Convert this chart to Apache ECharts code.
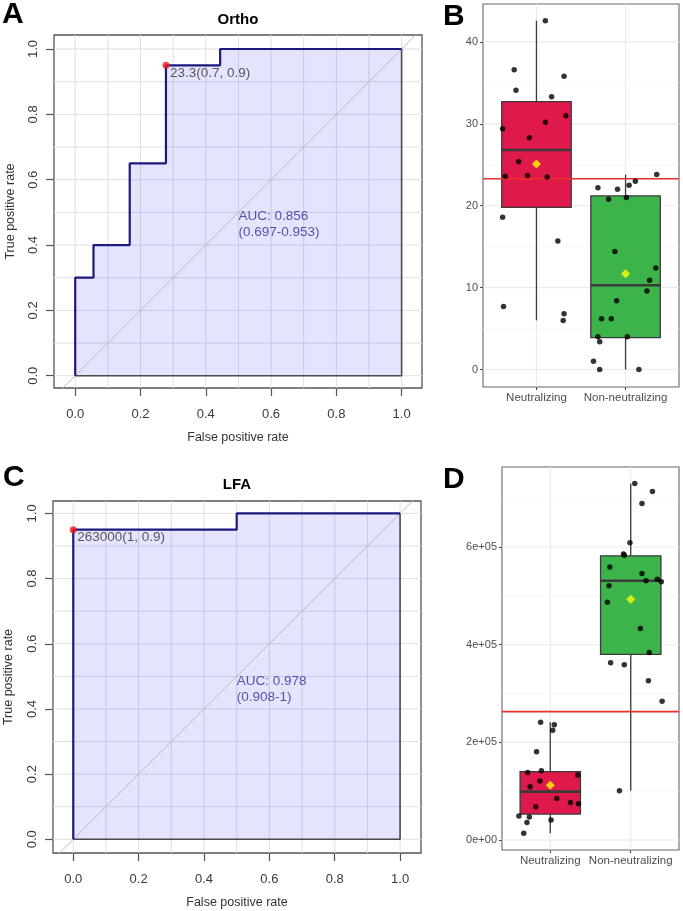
<!DOCTYPE html>
<html>
<head>
<meta charset="utf-8">
<title>ROC curves and boxplots</title>
<script src="https://cdn.jsdelivr.net/npm/echarts@6/dist/echarts.min.js"></script>
<style>
  html, body { margin: 0; padding: 0; background: #fff; }
  #main { width: 683px; height: 911px; }
</style>
</head>
<body>
<div id="main"></div>
<script type="text/javascript">
// ---- ROC curves (false positive rate / true positive rate) ----
var orthoFpr = [0, 0, 0.056, 0.056, 0.167, 0.167, 0.278, 0.278, 0.444, 0.444, 1];
var orthoTpr = [0, 0.3, 0.3, 0.4, 0.4, 0.65, 0.65, 0.95, 0.95, 1, 1];
var lfaFpr = [0, 0, 0.5, 0.5, 1];
var lfaTpr = [0, 0.95, 0.95, 1, 1];
var orthoBest = [0.278, 0.95];
var orthoBestText = '23.3(0.7, 0.9)';
var lfaBest = [0, 0.95];
var lfaBestText = '263000(1, 0.9)';
var orthoAuc = 'AUC: 0.856\n(0.697-0.953)';
var lfaAuc = 'AUC: 0.978\n(0.908-1)';
var rocTicks = [0, 0.2, 0.4, 0.6, 0.8, 1.0];
var rocGrid = [0, 0.1, 0.2, 0.3, 0.4, 0.5, 0.6, 0.7, 0.8, 0.9, 1.0];
var diagRange = [-0.2, 1.2];

// ---- boxplots ----
var groups = ['Neutralizing', 'Non-neutralizing'];
// [lower whisker, Q1, median, Q3, upper whisker]
var orthoBox = [[6.0, 19.8, 26.8, 32.7, 42.6], [0, 3.9, 10.3, 21.2, 23.8]];
var orthoMean = [25.1, 11.7];
var orthoCut = 23.3;
var orthoNeutVals = [42.6, 36.6, 34.1, 35.8, 33.3, 29.4, 31.0, 30.2, 28.3, 25.4, 23.6, 23.7, 23.5, 18.6, 15.7, 7.7, 6.8, 6.0];
var orthoNeutJit = [0.10, -0.25, -0.23, 0.31, 0.17, -0.38, 0.33, 0.10, -0.08, -0.20, -0.35, -0.10, 0.12, -0.38, 0.24, -0.37, 0.31, 0.30];
var orthoNonVals = [22.2, 20.8, 22.0, 21.0, 22.5, 23.0, 23.8, 14.4, 12.4, 10.9, 9.6, 8.4, 6.2, 6.2, 4.0, 3.4, 4.0, 1.0, 0, 0];
var orthoNonJit = [-0.31, -0.19, -0.09, 0.01, 0.04, 0.11, 0.35, -0.12, 0.34, 0.27, 0.24, -0.10, -0.27, -0.16, -0.31, -0.29, 0.02, -0.36, -0.29, 0.15];
var orthoTicks = [0, 10, 20, 30, 40];
var orthoMinor = [5, 15, 25, 35];

var lfaBox = [[14000, 53000, 99000, 140000, 241000], [101000, 380000, 531000, 582000, 730000]];
var lfaMean = [112000, 493000];
var lfaCut = 263000;
var lfaNeutVals = [241000, 236000, 225000, 181000, 138000, 142000, 133000, 121000, 109000, 85000, 77000, 74000, 68000, 49000, 47000, 36000, 41000, 14000];
var lfaNeutJit = [-0.12, 0.05, 0.03, -0.17, -0.28, -0.11, 0.34, -0.13, -0.25, 0.08, 0.25, 0.35, -0.18, -0.39, -0.26, -0.29, 0.01, -0.33];
var lfaNonVals = [730000, 714000, 689000, 609000, 586000, 583000, 559000, 546000, 521000, 531000, 534000, 529000, 487000, 433000, 384000, 363000, 359000, 326000, 284000, 101000];
var lfaNonJit = [0.05, 0.27, 0.14, -0.01, -0.09, -0.08, -0.26, 0.14, -0.27, 0.19, 0.33, 0.38, -0.29, 0.12, 0.23, -0.25, -0.08, 0.22, 0.39, -0.14];
var lfaTicks = [0, 200000, 400000, 600000];
var lfaMinor = [100000, 300000, 500000, 700000];

var FONT = '"Liberation Sans", Arial, Helvetica, sans-serif';
var boxColors = ['#e0194b', '#3db44a'];

var myChart = echarts.init(document.getElementById('main'), null, {renderer: 'canvas'});

// full-width / full-height straight lines (grid lines, cut-off line)
function refLines(gi, vals, dir, color, width, z) {
    return {
        type: 'custom', xAxisIndex: gi, yAxisIndex: gi, z: z, silent: true,
        data: vals.map(function (v) { return [v, v]; }),
        renderItem: function (params, api) {
            var cs = params.coordSys;
            var v = api.value(0);
            var shape;
            if (dir === 'v') {
                var px = api.coord([v, 0])[0];
                shape = {x1: px, y1: cs.y, x2: px, y2: cs.y + cs.height};
            } else {
                var py = api.coord([1, v])[1];
                shape = {x1: cs.x, y1: py, x2: cs.x + cs.width, y2: py};
            }
            return {type: 'line', shape: shape, style: {stroke: color, lineWidth: width}};
        }
    };
}

function pairs(xs, ys) {
    return xs.map(function (x, i) { return [x, ys[i]]; });
}

function rocSeries(gi, fpr, tpr, best, bestText, aucText, aucPos) {
    var pts = pairs(fpr, tpr);
    var n = fpr.length - 1;
    return [
        refLines(gi, rocGrid, 'v', '#e0e0e0', 1, 0),
        refLines(gi, rocGrid, 'h', '#e0e0e0', 1, 0),
        {   // area under curve
            type: 'line', xAxisIndex: gi, yAxisIndex: gi, z: 1, silent: true,
            data: pts, showSymbol: false,
            lineStyle: {width: 0},
            areaStyle: {color: 'rgba(0,0,250,0.15)'}
        },
        {   // chance diagonal
            type: 'line', xAxisIndex: gi, yAxisIndex: gi, z: 2, silent: true,
            data: diagRange.map(function (d) { return [d, d]; }), showSymbol: false,
            lineStyle: {color: '#b9b9b9', width: 1}
        },
        {   // closing edges of the polygon
            type: 'line', xAxisIndex: gi, yAxisIndex: gi, z: 3, silent: true,
            data: [[fpr[n], tpr[n]], [fpr[n], 0], [fpr[0], 0]], showSymbol: false,
            lineStyle: {color: '#4a4a4a', width: 1.6}
        },
        {   // ROC curve
            type: 'line', xAxisIndex: gi, yAxisIndex: gi, z: 4, silent: true,
            data: pts, showSymbol: false,
            lineStyle: {color: '#1b1b7e', width: 2.2}
        },
        {   // best threshold
            type: 'scatter', xAxisIndex: gi, yAxisIndex: gi, z: 5, silent: true,
            data: [best], symbolSize: 7,
            itemStyle: {color: '#f01818'},
            label: {show: true, formatter: bestText, position: [7.5, 11.5], align: 'left',
                verticalAlign: 'middle', fontSize: 13.5, color: '#333', fontFamily: FONT}
        },
        {   // AUC annotation
            type: 'scatter', xAxisIndex: gi, yAxisIndex: gi, z: 5, silent: true,
            data: [aucPos], symbolSize: 0,
            label: {show: true, formatter: aucText, position: 'right', distance: 0,
                lineHeight: 16, fontSize: 13.5, color: '#2e2e98', fontFamily: FONT}
        }
    ];
}

function boxSeries(gi, stats, boxW, cut, neutVals, neutJit, nonVals, nonJit, means, ticks, minor) {
    var pts = neutVals.map(function (v, i) { return [1 + neutJit[i], v]; })
        .concat(nonVals.map(function (v, i) { return [2 + nonJit[i], v]; }));
    return [
        refLines(gi, minor, 'h', '#f3f3f3', 0.7, 0),
        refLines(gi, ticks, 'h', '#e9e9e9', 1.1, 0),
        refLines(gi, [1, 2], 'v', '#e9e9e9', 1.1, 0),
        {
            type: 'custom', xAxisIndex: gi, yAxisIndex: gi, z: 2, silent: true,
            data: stats.map(function (s, i) { return [i + 1].concat(s); }),
            renderItem: function (params, api) {
                var x = api.value(0);
                var p = [1, 2, 3, 4, 5].map(function (k) { return api.coord([x, api.value(k)]); });
                var hw = api.size([boxW, 0])[0] / 2;
                var cx = p[0][0];
                var edge = {stroke: '#3a3a3a', lineWidth: 1.3};
                return {
                    type: 'group', children: [
                        {type: 'line', shape: {x1: cx, y1: p[0][1], x2: cx, y2: p[1][1]}, style: edge},
                        {type: 'line', shape: {x1: cx, y1: p[3][1], x2: cx, y2: p[4][1]}, style: edge},
                        {type: 'rect', shape: {x: cx - hw, y: p[3][1], width: 2 * hw, height: p[1][1] - p[3][1]},
                            style: {fill: boxColors[params.dataIndex], stroke: '#3a3a3a', lineWidth: 1.3}},
                        {type: 'line', shape: {x1: cx - hw, y1: p[2][1], x2: cx + hw, y2: p[2][1]},
                            style: {stroke: '#3a3a3a', lineWidth: 2.6}}
                    ]
                };
            }
        },
        refLines(gi, [cut], 'h', '#e8302c', 1.6, 3),
        {
            type: 'scatter', xAxisIndex: gi, yAxisIndex: gi, z: 4, silent: true,
            data: pts, symbolSize: 5.5, itemStyle: {color: '#000'}
        },
        {
            type: 'scatter', xAxisIndex: gi, yAxisIndex: gi, z: 5, silent: true,
            data: means.map(function (m, i) { return [i + 1, m]; }),
            symbol: 'diamond', symbolSize: 9, itemStyle: {color: '#ffff00'}
        }
    ];
}

function rocX(gi, min, max, gap) {
    return {
        type: 'value', gridIndex: gi, min: min, max: max,
        axisLine: {show: false, onZero: false}, splitLine: {show: false},
        axisTick: {show: true, length: 8, customValues: rocTicks, lineStyle: {color: '#555', width: 1.2}},
        axisLabel: {customValues: rocTicks, margin: 20, fontSize: 13, color: '#3a3a3a', fontFamily: FONT,
            formatter: function (v) { return v.toFixed(1); }},
        name: 'False positive rate', nameLocation: 'middle', nameGap: gap,
        nameTextStyle: {fontSize: 12.5, color: '#333', fontFamily: FONT}
    };
}
function rocY(gi, min, max, gap) {
    return {
        type: 'value', gridIndex: gi, min: min, max: max,
        axisLine: {show: false, onZero: false}, splitLine: {show: false},
        axisTick: {show: true, length: 8, customValues: rocTicks, lineStyle: {color: '#555', width: 1.2}},
        axisLabel: {customValues: rocTicks, margin: 14, rotate: 90, fontSize: 13, color: '#3a3a3a', fontFamily: FONT,
            formatter: function (v) { return v.toFixed(1); }},
        name: 'True positive rate', nameLocation: 'middle', nameGap: gap,
        nameTextStyle: {fontSize: 12.5, color: '#333', fontFamily: FONT}
    };
}
function boxX(gi) {
    return {
        type: 'value', gridIndex: gi, min: 0.4, max: 2.6,
        axisLine: {show: false, onZero: false}, splitLine: {show: false},
        axisTick: {show: true, length: 3, customValues: [1, 2], lineStyle: {color: '#444'}},
        axisLabel: {customValues: [1, 2], margin: 5, fontSize: 11.5, color: '#4d4d4d', fontFamily: FONT,
            formatter: function (v) { return groups[Math.round(v) - 1]; }}
    };
}
function boxY(gi, min, max, ticks, fmt) {
    return {
        type: 'value', gridIndex: gi, min: min, max: max,
        axisLine: {show: false, onZero: false}, splitLine: {show: false},
        axisTick: {show: true, length: 3, customValues: ticks, lineStyle: {color: '#444'}},
        axisLabel: {customValues: ticks, margin: 5, fontSize: 11, color: '#4d4d4d', fontFamily: FONT, formatter: fmt}
    };
}

function sciLabel(v) {
    if (v === 0) return '0e+00';
    return Math.round(v / 100000) + 'e+05';
}

var gridBase = {show: true, backgroundColor: 'transparent', outerBoundsMode: 'none', containLabel: false};
var letter = function (t, x, y) {
    return {type: 'text', x: x, y: y, silent: true,
        style: {text: t, fill: '#000', fontSize: 30, fontWeight: 'bold', fontFamily: FONT,
            align: 'left', verticalAlign: 'middle', textAlign: 'left', textVerticalAlign: 'middle'}};
};
var heading = function (t, x, y) {
    return {type: 'text', x: x, y: y, silent: true,
        style: {text: t, fill: '#000', fontSize: 15, fontWeight: 'bold', fontFamily: FONT,
            align: 'center', verticalAlign: 'middle', textAlign: 'center', textVerticalAlign: 'middle'}};
};

var option = {
    animation: false,
    backgroundColor: '#fff',
    textStyle: {fontFamily: FONT},
    grid: [
        Object.assign({left: 54, top: 35, width: 368, height: 353, borderColor: '#555', borderWidth: 1.3}, gridBase),
        Object.assign({left: 483, top: 4, width: 196, height: 383, borderColor: '#666', borderWidth: 1.1}, gridBase),
        Object.assign({left: 53, top: 501, width: 368, height: 352, borderColor: '#555', borderWidth: 1.3}, gridBase),
        Object.assign({left: 502, top: 467, width: 177, height: 383, borderColor: '#666', borderWidth: 1.1}, gridBase)
    ],
    xAxis: [
        rocX(0, -0.065, 1.0625, 43),
        boxX(1),
        rocX(2, -0.062, 1.064, 43),
        boxX(3)
    ],
    yAxis: [
        rocY(0, -0.0376, 1.0429, 37),
        boxY(1, -2.13, 44.63, orthoTicks, function (v) { return String(v); }),
        rocY(2, -0.042, 1.038, 38),
        boxY(3, -20500, 764000, lfaTicks, sciLabel)
    ],
    graphic: [
        letter('A', 2, 15),
        letter('B', 443, 17),
        letter('C', 3, 478),
        letter('D', 443, 480),
        heading('Ortho', 238, 20),
        heading('LFA', 237, 485)
    ],
    series: [].concat(
        rocSeries(0, orthoFpr, orthoTpr, orthoBest, orthoBestText, orthoAuc, [0.5, 0.462]),
        boxSeries(1, orthoBox, 0.78, orthoCut, orthoNeutVals, orthoNeutJit, orthoNonVals, orthoNonJit, orthoMean, orthoTicks, orthoMinor),
        rocSeries(2, lfaFpr, lfaTpr, lfaBest, lfaBestText, lfaAuc, [0.5, 0.46]),
        boxSeries(3, lfaBox, 0.75, lfaCut, lfaNeutVals, lfaNeutJit, lfaNonVals, lfaNonJit, lfaMean, lfaTicks, lfaMinor)
    )
};

myChart.setOption(option);
</script>
</body>
</html>
